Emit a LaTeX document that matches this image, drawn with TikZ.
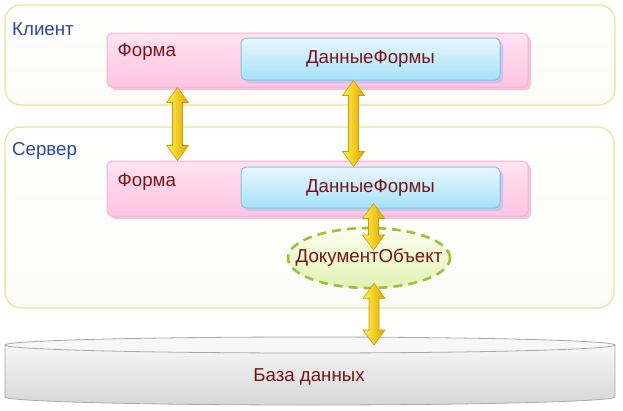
\documentclass[tikz,border=0pt]{standalone}
\usepackage{fontspec}
\setmainfont{Liberation Sans}
\usetikzlibrary{calc,shapes.geometric,shadows}

\definecolor{frameline}{HTML}{F0E09A}
\definecolor{frameback}{HTML}{FBFBF6}
\definecolor{pinkline}{HTML}{F2B4D4}
\definecolor{pinktop}{HTML}{FFE2F2}
\definecolor{pinkbot}{HTML}{FFC4E2}
\definecolor{pinkshadow}{HTML}{F4C4DC}
\definecolor{blueline}{HTML}{8CC2DA}
\definecolor{bluetop}{HTML}{EAF7FF}
\definecolor{bluebot}{HTML}{A4E2F8}
\definecolor{blueshadow}{HTML}{C8C4F0}
\definecolor{docline}{HTML}{9CC23A}
\definecolor{doctop}{HTML}{FBFEF0}
\definecolor{docbot}{HTML}{E2F2B4}
\definecolor{dbline}{HTML}{A8A8A8}
\definecolor{dbtop}{HTML}{F7F7F7}
\definecolor{dbbot}{HTML}{D6D6D6}
\definecolor{arrowline}{HTML}{C89A10}
\definecolor{arrowlight}{HTML}{FFF44C}
\definecolor{arrowmid}{HTML}{FFE000}
\definecolor{arrowdark}{HTML}{E2A400}
\definecolor{txtred}{HTML}{7A1414}
\definecolor{txtblue}{HTML}{2A46A8}

\tikzset{
  frame/.style={draw=frameline, line width=1.2pt, rounded corners=16pt, top color=white, bottom color=frameback},
  formbox/.style={draw=pinkline, line width=1pt, rounded corners=5pt, top color=pinktop, bottom color=pinkbot,
    drop shadow={shadow xshift=3pt, shadow yshift=-3pt, fill=pinkshadow, opacity=1}},
  databox/.style={draw=blueline, line width=1pt, rounded corners=5pt, top color=bluetop, bottom color=bluebot,
    drop shadow={shadow xshift=3pt, shadow yshift=-3pt, fill=blueshadow, opacity=1}, text=txtred, font=\fontsize{18.7}{22}\selectfont},
  sidelbl/.style={text=txtblue, font=\fontsize{18.7}{22}\selectfont, inner sep=0pt},
  formlbl/.style={text=txtred, font=\fontsize{18.7}{22}\selectfont, inner sep=0pt},
  yarrow/.style={draw=arrowline, line width=0.6pt, left color=arrowlight, middle color=arrowmid, right color=arrowdark,
    to path={let \p1=(\tikztostart), \p2=(\tikztotarget) in
      (\x1,\y1) -- (\x1+11pt,\y1-15pt) -- (\x1+5pt,\y1-15pt) -- (\x1+5pt,\y2+15pt) -- (\x1+11pt,\y2+15pt)
      -- (\x1,\y2) -- (\x1-11pt,\y2+15pt) -- (\x1-5pt,\y2+15pt) -- (\x1-5pt,\y1-15pt) -- (\x1-11pt,\y1-15pt) -- cycle}}
}

\begin{document}
\begin{tikzpicture}[x=1pt,y=-1pt]
\useasboundingbox (0,0) rectangle (623,410);

% client
\node[frame, minimum width=610pt, minimum height=100pt] (client) at (310,55) {};
\node[sidelbl, anchor=west] (clientlbl) at (12,29) {Клиент};
\node[formbox, minimum width=421pt, minimum height=54pt] (cform) at (317.5,60) {};
\node[formlbl, anchor=west] (cformlbl) at ([xshift=11pt,yshift=-19pt]cform.north west) {Форма};
\node[databox, minimum width=259pt, minimum height=42pt] (cdata) at (370.5,59) {ДанныеФормы};

% server
\node[frame, minimum width=609pt, minimum height=181pt] (server) at (309.5,217.5) {};
\node[sidelbl, anchor=west] (serverlbl) at (12,151) {Сервер};
\node[formbox, minimum width=421pt, minimum height=55pt] (sform) at (317.5,188.5) {};
\node[formlbl, anchor=west] (sformlbl) at ([xshift=11pt,yshift=-21pt]sform.north west) {Форма};
\node[databox, minimum width=259pt, minimum height=41pt] (sdata) at (370.5,187.5) {ДанныеФормы};
\node[ellipse, draw=docline, line width=2.6pt, dash pattern=on 9pt off 6pt, top color=doctop, bottom color=docbot,
  minimum width=162pt, minimum height=60pt, inner xsep=-18pt, inner ysep=0pt, text=txtred,
  font=\fontsize{18.7}{22}\selectfont] (doc) at (369,258) {ДокументОбъект};

% database
\path[draw=dbline, line width=0.8pt, top color=dbtop, bottom color=dbbot]
  (5,345) -- (5,397) arc[start angle=180, end angle=360, x radius=305pt, y radius=8pt] -- (615,345) -- cycle;
\draw[dbline, line width=0.8pt, fill=dbtop] (310,345) ellipse[x radius=305pt, y radius=8pt];
\node[formlbl] (db) at (309,377) {База данных};
\coordinate (dbtopc) at (374,345);

% arrows
\draw[yarrow] ([xshift=71pt]cform.south west) to ([xshift=71pt]sform.north west);
\draw[yarrow] ([xshift=113pt]cdata.south west) to ([xshift=113pt]sdata.north west);
\draw[yarrow] ([xshift=133pt,yshift=5pt]sdata.south west) to ([xshift=5pt,yshift=8pt]doc.center);
\draw[yarrow] ([xshift=5pt,yshift=6pt]doc.south) to (dbtopc);
\end{tikzpicture}
\end{document}
